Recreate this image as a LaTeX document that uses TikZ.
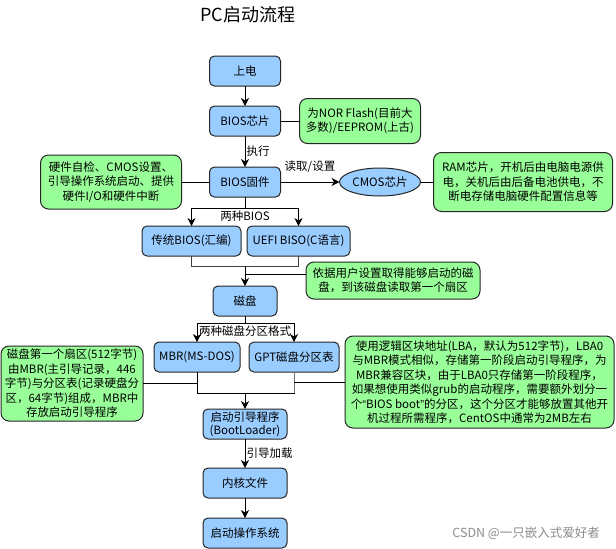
\documentclass[tikz,border=0pt]{standalone}
\usepackage{fontspec}
\setmainfont{Noto Sans CJK SC}
\newfontfamily\latinfont{Liberation Sans}
\usepackage{tikz}
\usetikzlibrary{arrows.meta,positioning,shapes.geometric}
\definecolor{boxblue}{HTML}{99CCFF}
\definecolor{notegreen}{HTML}{99FF99}
\tikzset{
    %Define standard arrow tip
    >={Stealth[length=8pt,width=8pt,inset=2.5pt]},
    %Define style for boxes
    stepbox/.style={
           rectangle,
           rounded corners=5pt,
           draw=black!85, line width=1pt,
           fill=boxblue,
           minimum width=71pt,
           minimum height=30pt,
           inner sep=1pt, outer sep=0pt,
           font=\fontsize{11.5}{14.5}\selectfont,
           align=center},
    notebox/.style={
           rectangle,
           rounded corners=8pt,
           draw=black!85, line width=1pt,
           fill=notegreen,
           inner sep=1pt, outer sep=0pt,
           font=\fontsize{11.5}{14.5}\selectfont,
           align=center},
    chipbox/.style={
           ellipse,
           draw=black!85, line width=1pt,
           fill=boxblue,
           minimum width=81pt,
           minimum height=28pt,
           inner sep=1pt, outer sep=0pt,
           font=\fontsize{11.5}{14.5}\selectfont},
    lbl/.style={
           inner sep=1pt,
           font=\fontsize{11.5}{14}\selectfont},
    % Define arrow style
    pil/.style={
           ->,
           line width=1pt},
    wire/.style={
           -,
           line width=1pt}
}
\begin{document}
\begin{tikzpicture}[x=1pt,y=-1pt]
\path[use as bounding box, fill=white] (0,0) rectangle (616,549);
\node[font=\fontsize{18}{20}\selectfont](title) at (248,15){PC启动流程};
 %main flow
\node[stepbox](1) at (245,71){上电};
\node[stepbox, below=20pt of 1](2){BIOS芯片};
\node[stepbox, below=31pt of 2](3){BIOS固件};
\node[chipbox, right=59pt of 3](4){CMOS芯片};
\node[stepbox, minimum width=99pt, below=29pt of 3, xshift=-53.5pt](5){传统BIOS(汇编)};
\node[stepbox, minimum width=103pt, right=6pt of 5](6){UEFI BISO(C语言)};
\node[stepbox, minimum width=64pt, below=89pt of 3](7){磁盘};
\node[stepbox, minimum width=86pt, below=26pt of 7, xshift=-48pt](8){MBR(MS-DOS)};
\node[stepbox, minimum width=90pt, right=9pt of 8](9){GPT磁盘分区表};
\node[stepbox, minimum width=84pt, font=\fontsize{11.5}{13}\selectfont, below=93pt of 7](10){启动引导程序\\(BootLoader)};
\node[stepbox, minimum width=84pt, below=152pt of 7](11){内核文件};
\node[stepbox, minimum width=84pt, below=20pt of 11](12){启动操作系统};
 %notes
\node[notebox, minimum width=121pt, minimum height=45pt, right=19pt of 2](n2){为NOR Flash(目前大\\多数)/EEPROM(上古)};
\node[notebox, minimum width=141pt, minimum height=54pt, left=28pt of 3](n3){硬件自检、CMOS设置、\\引导操作系统启动、提供\\硬件I/O和硬件中断};
\node[notebox, minimum width=179pt, minimum height=59pt, right=13pt of 4](n4){RAM芯片，开机后由电脑电源供\\电，关机后由后备电池供电，不\\断电存储电脑硬件配置信息等};
\node[notebox, minimum width=174pt, minimum height=37pt](n7) at (393,280.5){依据用户设置取得能够启动的磁\\盘，到该磁盘读取第一个扇区};
\node[notebox, minimum width=142pt, minimum height=75pt](n8) at (72,383.5){磁盘第一个扇区(512字节)\\由MBR(主引导记录，446\\字节)与分区表(记录硬盘分\\区，64字节)组成，MBR中\\存放启动引导程序};
\node[notebox, minimum width=269pt, minimum height=92pt](n9) at (479.5,382){使用逻辑区块地址(LBA，默认为512字节)，LBA0\\与MBR模式相似，存储第一阶段启动引导程序，为\\MBR兼容区块，由于LBA0只存储第一阶段程序，\\如果想使用类似grub的启动程序，需要额外划分一\\个{\latinfont “}BIOS boot{\latinfont ”}的分区，这个分区才能够放置其他开\\机过程所需程序，CentOS中通常为2MB左右};
\node[lbl, text=black!45, font=\fontsize{12.5}{14}\selectfont, anchor=east](mark) at (601,533){CSDN @一只嵌入式爱好者};
 %connectors
\draw[pil] (1) -- (2);
\draw[wire] (2) -- (n2);
\draw[pil] (2) -- node[lbl, right]{执行} (3);
\draw[wire] (n3) -- (3);
\draw[pil] (3) -- node[lbl, above=8pt]{读取/设置} (4);
\draw[wire] (4) -- (n4);
\path (3.south) ++(0,11) coordinate (f1);
\draw[pil] (3.south) -- (f1) -| (5.north);
\draw[pil] (f1) -| (6.north);
\node[lbl, below=2pt of f1]{两种BIOS};
\path (5.south) ++(0,10) coordinate (m1);
\draw[wire, black!75] (5.south) -- (m1) -| (6.south);
\draw[pil] (m1 -| 7.north) -- (7.north);
\draw[wire] ([yshift=6.5pt]n7.west) -- ([yshift=6.5pt]n7.west -| 7.north);
\path (7.south) ++(0,7) coordinate (f2);
\draw[pil] (7.south) -- (f2) -| (8.north);
\draw[pil] (f2) -| (9.north);
\node[lbl, below=2pt of f2]{两种磁盘分区格式};
\path (8.south) ++(0,21) coordinate (m2);
\draw[wire] (8.south) -- (m2) -| (9.south);
\draw[wire, black!55] (9.south) -- (9.south |- m2);
\draw[pil] (m2 -| 10.north) -- (10.north);
\draw[wire] (n8.east) -- (n8.east -| 8.south);
\draw[wire] (n9.west) -- (n9.west -| 9.south);
\draw[pil] (10) -- node[lbl, right]{引导加载} (11);
\draw[pil] (11) -- (12);
\end{tikzpicture}
\end{document}
